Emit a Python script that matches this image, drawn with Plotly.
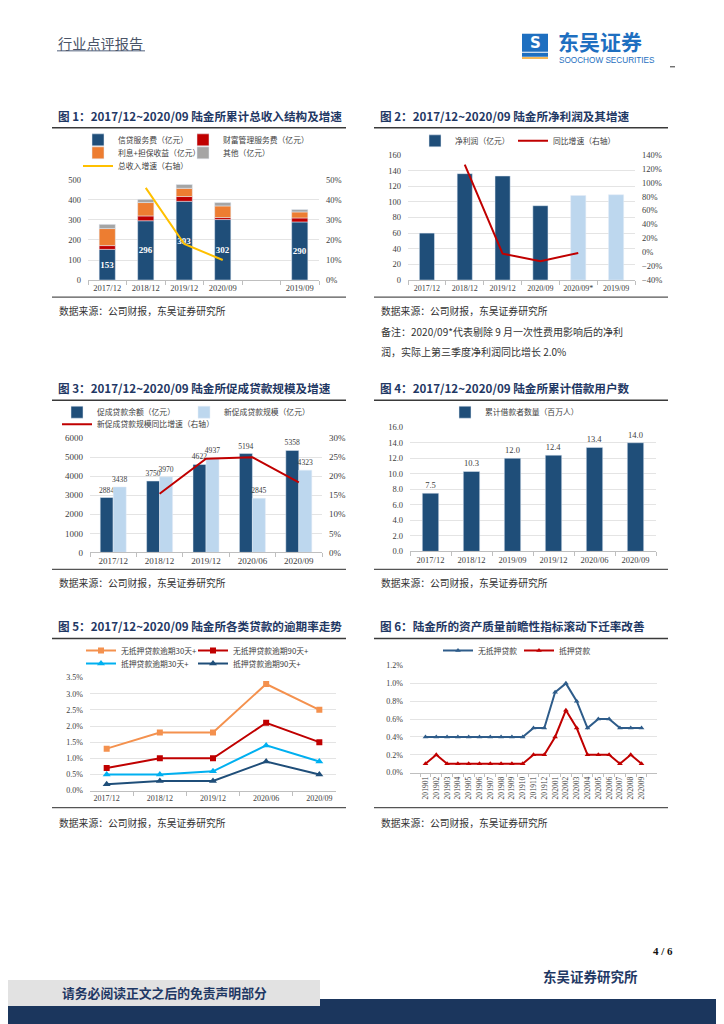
import plotly.graph_objects as go
import numpy as np

W, H = 724, 1024
OX = 8            # compensate page body margin (horizontal)
OY, SY = 14.3, 0.989   # empirical vertical offset / scale of the photographed page
def X(px): return (px - OX) / W
def Y(py): return 1 - ((py - OY) / SY) / H

# ---------------- data ----------------
c1_cats = ["2017/12", "2018/12", "2019/12", "2020/09", " ", "2019/09"]
c1_x = ["2017/12", "2018/12", "2019/12", "2020/09", "2019/09"]
c1_credit = [153, 296, 393, 302, 290]
c1_wealth = [19, 24, 24, 10, 20]
c1_interest = [85, 67, 41, 58, 30]
c1_other = [21, 16, 19, 17, 12]
c1_growth_x = ["2018/12", "2019/12", "2020/09"]
c1_growth = [46, 18, 10]

c2_cats = ["2017/12", "2018/12", "2019/12", "2020/09", "2020/09*", "2019/09"]
c2_profit = [60, 136, 133, 95, 108, 109]
c2_growth_x = ["2018/12", "2019/12", "2020/09", "2020/09*"]
c2_growth = [126, -2, -13, -1]

c3_cats = ["2017/12", "2018/12", "2019/12", "2020/06", "2020/09"]
c3_balance = [2884, 3750, 4622, 5194, 5358]
c3_new = [3438, 3970, 4937, 2845, 4323]
c3_growth_x = ["2018/12", "2019/12", "2020/06", "2020/09"]
c3_growth = [15.4, 24.6, 25.0, 18.4]

c4_cats = ["2017/12", "2018/12", "2019/09", "2019/12", "2020/06", "2020/09"]
c4_users = [7.5, 10.3, 12.0, 12.4, 13.4, 14.0]

c5_cats = ["2017/12", "2018/12", "2019/12", "2020/06", "2020/09"]
c5_unsec30 = [1.3, 1.8, 1.8, 3.3, 2.5]
c5_unsec90 = [0.7, 1.0, 1.0, 2.1, 1.5]
c5_sec30 = [0.5, 0.5, 0.6, 1.4, 0.9]
c5_sec90 = [0.2, 0.3, 0.3, 0.9, 0.5]

c6_months = ["201901", "201902", "201903", "201904", "201905", "201906", "201907",
             "201908", "201909", "201910", "201911", "201912", "202001", "202002",
             "202003", "202004", "202005", "202006", "202007", "202008", "202009"]
c6_unsecured = [0.4, 0.4, 0.4, 0.4, 0.4, 0.4, 0.4, 0.4, 0.4, 0.4, 0.5, 0.5,
                0.9, 1.0, 0.8, 0.5, 0.6, 0.6, 0.5, 0.5, 0.5]
c6_secured = [0.1, 0.2, 0.1, 0.1, 0.1, 0.1, 0.1, 0.1, 0.1, 0.1, 0.2, 0.2,
              0.4, 0.7, 0.5, 0.2, 0.2, 0.2, 0.1, 0.2, 0.1]

# ---------------- styles ----------------
NAVY = "#1F3864"
DBLUE = "#1F4E79"
LBLUE = "#BDD7EE"
RED = "#C00000"
ORANGE = "#ED7D31"
GREY = "#A5A5A5"
YELLOW = "#FFC000"
SANS = "Noto Sans CJK SC"
TICKC = "#404040"
GRIDC = "#E4E4E4"
LEGF = dict(family=SANS, size=7.8, color="#404040")

fig = go.Figure()
legends = {}
lcount = [0]

def leg(text_x, y):
    lcount[0] += 1
    name = "legend" if lcount[0] == 1 else "legend%d" % lcount[0]
    legends[name] = dict(x=X(text_x - 40), y=Y(y), xanchor="left", yanchor="middle",
                         orientation="h", font=LEGF, bgcolor="rgba(0,0,0,0)",
                         borderwidth=0, itemwidth=30, tracegroupgap=0)
    return name

# ---------- chart 1 ----------
b1 = np.array(c1_credit)
b2 = b1 + np.array(c1_wealth)
b3 = b2 + np.array(c1_interest)
fig.add_trace(go.Bar(x=c1_x, y=c1_credit, name="信贷服务费（亿元）", marker_color=DBLUE,
                     width=0.42, text=c1_credit, textposition="inside", insidetextanchor="middle",
                     textangle=0, constraintext="none",
                     textfont=dict(family="Liberation Serif", size=9, color="white", weight="bold"),
                     xaxis="x", yaxis="y", legend=leg(118, 141)))
fig.add_trace(go.Bar(x=c1_x, y=c1_wealth, base=b1, name="财富管理服务费（亿元）", marker_color=RED,
                     width=0.42, xaxis="x", yaxis="y", legend=leg(223, 141)))
fig.add_trace(go.Bar(x=c1_x, y=c1_interest, base=b2, name="利息+担保收益（亿元）", marker_color=ORANGE,
                     width=0.42, xaxis="x", yaxis="y", legend=leg(118, 154)))
fig.add_trace(go.Bar(x=c1_x, y=c1_other, base=b3, name="其他（亿元）", marker_color=GREY,
                     width=0.42, xaxis="x", yaxis="y", legend=leg(223, 154)))
fig.add_trace(go.Scatter(x=c1_growth_x, y=c1_growth, name="总收入增速（右轴）", mode="lines",
                         line=dict(color=YELLOW, width=2), xaxis="x", yaxis="y7",
                         legend=leg(118, 167)))

# ---------- chart 2 ----------
fig.add_trace(go.Bar(x=c2_cats, y=c2_profit, name="净利润（亿元）",
                     marker_color=[DBLUE, DBLUE, DBLUE, DBLUE, LBLUE, LBLUE],
                     width=0.4, xaxis="x2", yaxis="y2", legend=leg(455, 142)))
fig.add_trace(go.Scatter(x=c2_growth_x, y=c2_growth, name="同比增速（右轴）", mode="lines",
                         line=dict(color=RED, width=2), xaxis="x2", yaxis="y8",
                         legend=leg(553, 142)))

# ---------- chart 3 ----------
lblf = dict(family="Liberation Serif", size=7.6, color="#404040")
fig.add_trace(go.Bar(x=c3_cats, y=c3_balance, name="促成贷款余额（亿元）", marker_color=DBLUE,
                     width=0.28, offset=-0.28, text=c3_balance, textposition="outside",
                     textangle=0, constraintext="none",
                     textfont=lblf, cliponaxis=False,
                     xaxis="x3", yaxis="y3", legend=leg(97, 413)))
fig.add_trace(go.Bar(x=c3_cats, y=c3_new, name="新促成贷款规模（亿元）", marker_color=LBLUE,
                     width=0.28, offset=0.0, text=c3_new, textposition="outside",
                     textangle=0, constraintext="none",
                     textfont=lblf, cliponaxis=False,
                     xaxis="x3", yaxis="y3", legend=leg(224, 413)))
fig.add_trace(go.Scatter(x=c3_growth_x, y=c3_growth, name="新促成贷款规模同比增速（右轴）", mode="lines",
                         line=dict(color=RED, width=2), xaxis="x3", yaxis="y9",
                         legend=leg(97, 425)))

# ---------- chart 4 ----------
fig.add_trace(go.Bar(x=c4_cats, y=c4_users, name="累计借款者数量（百万人）", marker_color=DBLUE,
                     width=0.4, text=[f"{v:.1f}" for v in c4_users], textposition="outside",
                     textangle=0, constraintext="none",
                     textfont=dict(family="Liberation Serif", size=8.5, color="#404040"),
                     cliponaxis=False, xaxis="x4", yaxis="y4", legend=leg(485, 413)))

# ---------- chart 5 ----------
fig.add_trace(go.Scatter(x=c5_cats, y=c5_unsec30, name="无抵押贷款逾期30天+", mode="lines+markers",
                         line=dict(color="#F4914E", width=2), marker=dict(symbol="square", size=6),
                         xaxis="x5", yaxis="y5", legend=leg(121, 651)))
fig.add_trace(go.Scatter(x=c5_cats, y=c5_unsec90, name="无抵押贷款逾期90天+", mode="lines+markers",
                         line=dict(color=RED, width=2), marker=dict(symbol="square", size=6),
                         xaxis="x5", yaxis="y5", legend=leg(233, 651)))
fig.add_trace(go.Scatter(x=c5_cats, y=c5_sec30, name="抵押贷款逾期30天+", mode="lines+markers",
                         line=dict(color="#00B0F0", width=2), marker=dict(symbol="triangle-up", size=7),
                         xaxis="x5", yaxis="y5", legend=leg(121, 664)))
fig.add_trace(go.Scatter(x=c5_cats, y=c5_sec90, name="抵押贷款逾期90天+", mode="lines+markers",
                         line=dict(color=DBLUE, width=2), marker=dict(symbol="triangle-up", size=7),
                         xaxis="x5", yaxis="y5", legend=leg(233, 664)))

# ---------- chart 6 ----------
fig.add_trace(go.Scatter(x=c6_months, y=c6_unsecured, name="无抵押贷款", mode="lines+markers",
                         line=dict(color="#2E5C8A", width=2), marker=dict(symbol="triangle-up", size=5),
                         xaxis="x6", yaxis="y6", legend=leg(478, 651)))
fig.add_trace(go.Scatter(x=c6_months, y=c6_secured, name="抵押贷款", mode="lines+markers",
                         line=dict(color=RED, width=2), marker=dict(symbol="triangle-up", size=5),
                         xaxis="x6", yaxis="y6", legend=leg(559, 651)))

# ---------------- axes ----------------
tickf = dict(family="Liberation Serif", size=8.5, color=TICKC)

def xax(x0, x1, y0, y1, anchor, cats, **kw):
    d = dict(domain=[X(x0), X(x1)], anchor=anchor, type="category",
             categoryorder="array", categoryarray=cats, showgrid=False,
             showline=True, linecolor="#BFBFBF", linewidth=1,
             ticks="outside", tickson="boundaries", ticklen=4, tickcolor="#BFBFBF",
             tickfont=tickf, tickangle=0, fixedrange=True, zeroline=False)
    d.update(kw)
    return d

def yax(y_top, y_bot, anchor, rng, dtick, **kw):
    d = dict(domain=[Y(y_bot), Y(y_top)], anchor=anchor, range=rng, dtick=dtick,
             showgrid=True, gridcolor=GRIDC, gridwidth=1, zeroline=False, showline=False,
             tickfont=tickf, ticks="", ticklabelstandoff=6, fixedrange=True)
    d.update(kw)
    return d

def yright(over, anchor, rng, dtick, **kw):
    d = dict(overlaying=over, side="right", anchor=anchor, range=rng, dtick=dtick,
             showgrid=False, zeroline=False, showline=False, tickfont=tickf,
             ticks="", ticklabelstandoff=6, ticksuffix="%", fixedrange=True)
    d.update(kw)
    return d

f9 = dict(family="Liberation Serif", size=9, color=TICKC)
f8 = dict(family="Liberation Serif", size=8, color=TICKC)
layout_axes = dict(
    xaxis=xax(88, 319, 181, 281, "y", c1_cats),
    yaxis=yax(181, 281, "x", [0, 500], 100),
    yaxis7=yright("y", "x", [0, 50], 10),

    xaxis2=xax(408, 635, 156, 281, "y2", c2_cats, tickfont=f8),
    yaxis2=yax(156, 281, "x2", [0, 160], 20),
    yaxis8=yright("y2", "x2", [-40, 140], 20),

    xaxis3=xax(90, 322, 439, 553, "y3", c3_cats, tickfont=f9),
    yaxis3=yax(439, 553, "x3", [0, 6000], 1000, tickfont=f9),
    yaxis9=yright("y3", "x3", [0, 30], 5, tickfont=f9),

    xaxis4=xax(410, 656, 428, 552, "y4", c4_cats),
    yaxis4=yax(428, 552, "x4", [0, 16], 2, tickformat=".1f"),

    xaxis5=xax(90, 336, 678, 791, "y5", c5_cats, tickfont=f8),
    yaxis5=yax(678, 791, "x5", [0, 3.5], 0.5, tickformat=".1f", ticksuffix="%", tickfont=f8),

    xaxis6=xax(410, 657, 666, 773, "y6", c6_months, tickangle=-90, ticklen=3,
               tickfont=dict(family="Liberation Serif", size=7.6, color=TICKC)),
    yaxis6=yax(666, 773, "x6", [0, 1.2], 0.2, tickformat=".1f", ticksuffix="%", tickfont=f8),
)

# ---------------- page decorations ----------------
shapes = []
annos = []

def hline(x0, x1, y, color="#3A3A3A", w=1.5):
    shapes.append(dict(type="line", xref="paper", yref="paper", x0=X(x0), x1=X(x1),
                       y0=Y(y), y1=Y(y), line=dict(color=color, width=w)))

def rect(x0, x1, y0, y1, color):
    shapes.append(dict(type="rect", xref="paper", yref="paper", x0=X(x0), x1=X(x1),
                       y0=Y(y1), y1=Y(y0), line=dict(width=0), fillcolor=color, layer="below"))

def text(x, y, s, size, color="#333333", family=SANS, anchor="left", weight="normal"):
    annos.append(dict(xref="paper", yref="paper", x=X(x), y=Y(y), text=s, showarrow=False,
                      xanchor=anchor, yanchor="middle",
                      font=dict(family=family, size=size, color=color, weight=weight)))

# header
text(56, 44, "行业点评报告", 14.2, color="#4A5468")
hline(57, 145, 52, color="#8C96A8", w=1.5)
rect(522, 548, 35, 53, "#1E6FC0")
text(535, 44, "S", 15, color="white", family="DejaVu Sans", anchor="center", weight="bold")
rect(522, 548, 54, 58, "#1E6FC0")
rect(522, 548, 58.5, 60, "#F0A020")
text(556, 42, "东吴证券", 21, color="#1E6FC0", anchor="left", weight="bold")
text(557, 62, "SOOCHOW SECURITIES", 8.2, color="#1E6FC0", family="Liberation Sans", anchor="left")
hline(670, 675, 68, color="#555555", w=1.2)

# titles and rules
TITLE_SIZE = 11.6
text(56, 117, "图 1：2017/12~2020/09 陆金所累计总收入结构及增速", TITLE_SIZE, color=NAVY, weight="bold")
text(378, 117, "图 2：2017/12~2020/09 陆金所净利润及其增速", TITLE_SIZE, color=NAVY, weight="bold")
text(56, 389, "图 3：2017/12~2020/09 陆金所促成贷款规模及增速", TITLE_SIZE, color=NAVY, weight="bold")
text(378, 389, "图 4：2017/12~2020/09 陆金所累计借款用户数", TITLE_SIZE, color=NAVY, weight="bold")
text(56, 627, "图 5：2017/12~2020/09 陆金所各类贷款的逾期率走势", TITLE_SIZE, color=NAVY, weight="bold")
text(378, 627, "图 6：陆金所的资产质量前瞻性指标滚动下迁率改善", TITLE_SIZE, color=NAVY, weight="bold")

for y in (129, 401, 639):
    hline(52, 346, y)
    hline(374, 668, y)
for y in (298, 570, 808):
    hline(52, 346, y, color="#555555", w=1.2)
    hline(374, 668, y, color="#555555", w=1.2)

SRC = "数据来源：公司财报，东吴证券研究所"
for (x, y) in ((57, 312), (379, 312), (57, 584), (379, 584), (57, 823), (379, 823)):
    text(x, y, SRC, 9.8, color="#333333")
text(379, 332, "备注：2020/09*代表剔除 9 月一次性费用影响后的净利", 10, color="#333333")
text(379, 352, "润，实际上第三季度净利润同比增长 2.0%", 10, color="#333333")

# footer
text(675, 951, "4 / 6", 11, color="#111111", family="Liberation Serif", anchor="right", weight="bold")
text(640, 976, "东吴证券研究所", 13.5, color=NAVY, anchor="right", weight="bold")
rect(0, 724, 999, 1030, "#1B365D")
rect(0, 320, 980, 1006, "#E2E2E2")
text(164, 993, "请务必阅读正文之后的免责声明部分", 12.8, color=NAVY, anchor="center", weight="bold")

fig.update_layout(
    width=W, height=H, margin=dict(l=0, r=0, t=0, b=0),
    paper_bgcolor="white", plot_bgcolor="rgba(0,0,0,0)",
    barmode="overlay", showlegend=True,
    shapes=shapes, annotations=annos,
    font=dict(family=SANS, size=9, color="#333333"),
    **layout_axes, **legends,
)

fig.write_html("out.html")
